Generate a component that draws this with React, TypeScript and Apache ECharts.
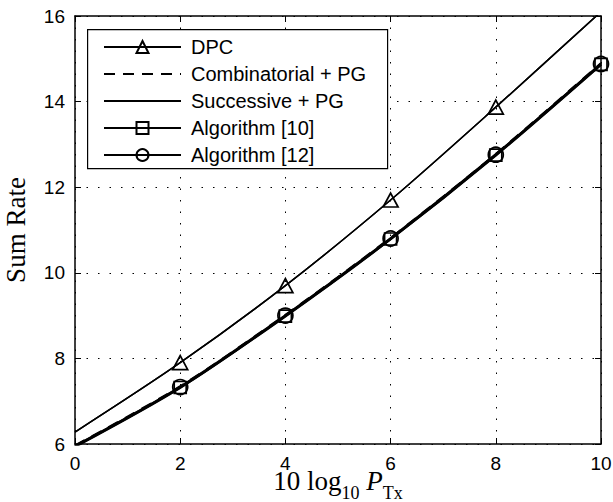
import React, { useEffect, useRef } from "react";
import * as echarts from "echarts";

const xValues = [0, 2, 4, 6, 8, 10];
const dpc = [6.28, 7.9, 9.7, 11.7, 13.87, 16.1];
const successive = [6.28, 7.9, 9.7, 11.7, 13.87, 16.1];
const combinatorial = [5.97, 7.35, 9.02, 10.82, 12.78, 14.9];
const algo10 = [5.94, 7.32, 8.99, 10.79, 12.75, 14.87];
const algo12 = [5.95, 7.33, 9.0, 10.8, 12.76, 14.88];
const xTicks = [0, 2, 4, 6, 8, 10];
const yTicks = [6, 8, 10, 12, 14, 16];

const seriesNames = [
  "DPC",
  "Combinatorial + PG",
  "Successive + PG",
  "Algorithm [10]",
  "Algorithm [12]",
];

// x-axis title pieces: [text, kind]
const xTitleParts: [string, string][] = [
  ["10 log", "main"],
  ["10", "sub"],
  [" ", "main"],
  ["P", "ital"],
  ["Tx", "sub"],
];

function toData(vals: number[], markFirst: boolean) {
  return vals.map((v, i) =>
    i === 0 && !markFirst ? { value: [xValues[i], v], symbol: "none" } : { value: [xValues[i], v] }
  );
}

export default function App() {
  const ref = useRef<HTMLDivElement>(null);
  useEffect(() => {
    if (!ref.current) return;
    const chart = echarts.init(ref.current, undefined, { renderer: "svg" });
    const tickFont = "Liberation Sans, Arial, sans-serif";
    const serif = "Liberation Serif, Times New Roman, serif";
    const grid = { left: 75, right: 12, top: 16, bottom: 58 };
    const dotted = { show: true, lineStyle: { color: "#000", width: 1, type: [1.5, 10] as any } };
    const axisLine = { show: true, onZero: false, lineStyle: { color: "#000", width: 1.5 } };
    const tick = { show: true, inside: true, length: 6, lineStyle: { color: "#000", width: 1 } };
    const hollow = { color: "rgba(0,0,0,0)", borderColor: "#000", borderWidth: 1.7 };
    const noSym = { color: "rgba(0,0,0,0)", borderColor: "rgba(0,0,0,0)", borderWidth: 0 };

    // build x-axis title as positioned text pieces
    const fonts: Record<string, { size: number; style: string; dy: number; lh: number }> = {
      main: { size: 27, style: "normal", dy: 0, lh: 20 },
      ital: { size: 27, style: "italic", dy: 0, lh: 20 },
      sub: { size: 18, style: "normal", dy: 12, lh: 14 },
    };
    const ctx = document.createElement("canvas").getContext("2d")!;
    const widths = xTitleParts.map(([t, k]) => {
      const f = fonts[k];
      ctx.font = `${f.style} ${f.size}px "Liberation Serif"`;
      return ctx.measureText(t).width;
    });
    const total = widths.reduce((a, b) => a + b, 0);
    const centerX = grid.left + (613 - grid.left - grid.right) / 2;
    const baseY = 481;
    let cx = centerX - total / 2;
    const titleTexts: any[] = [];
    xTitleParts.forEach(([t, k], i) => {
      const f = fonts[k];
      if (t.trim()) {
        titleTexts.push({
          type: "text",
          x: cx,
          y: baseY + f.dy,
          style: {
            text: t,
            fontFamily: serif,
            fontSize: f.size,
            fontStyle: f.style,
            lineHeight: f.lh,
            fill: "#000",
            align: "left",
            verticalAlign: "middle",
          },
        });
      }
      cx += widths[i];
    });

    chart.setOption({
      animation: false,
      backgroundColor: "#fff",
      grid: { ...grid, outerBoundsMode: "none" },
      graphic: [
        {
          type: "rect",
          left: 87,
          top: 29,
          shape: { width: 300, height: 139 },
          style: { fill: "#fff", stroke: "#000", lineWidth: 1.2 },
          z: 50,
        },
        ...titleTexts,
      ],
      legend: {
        orient: "vertical",
        left: 103,
        top: 37,
        padding: 0,
        itemWidth: 77,
        itemHeight: 15,
        itemGap: 7,
        z: 60,
        data: seriesNames,
        textStyle: {
          fontFamily: tickFont,
          fontSize: 20,
          color: "#000",
          padding: [0, 0, 0, 5],
        },
        lineStyle: { width: 2 },
      },
      xAxis: [
        {
          type: "value",
          min: 0,
          max: 10,
          interval: 2,
          position: "bottom",
          axisLine,
          axisTick: tick,
          splitLine: dotted,
          axisLabel: {
            fontFamily: tickFont,
            fontSize: 19,
            lineHeight: 14,
            color: "#000",
            margin: 12,
            formatter: (v: number) => (xTicks.includes(v) ? String(v) : ""),
          },
        },
        {
          type: "value",
          min: 0,
          max: 10,
          interval: 2,
          position: "top",
          axisLine,
          axisTick: tick,
          axisLabel: { show: false },
          splitLine: { show: false },
        },
      ],
      yAxis: [
        {
          type: "value",
          min: 6,
          max: 16,
          interval: 2,
          position: "left",
          axisLine,
          axisTick: tick,
          splitLine: dotted,
          axisLabel: {
            fontFamily: tickFont,
            fontSize: 19,
            color: "#000",
            margin: 10,
            formatter: (v: number) => (yTicks.includes(v) ? String(v) : ""),
          },
          name: "Sum Rate",
          nameLocation: "middle",
          nameGap: 46,
          nameMoveOverlap: false,
          nameTextStyle: { fontFamily: serif, fontSize: 27, color: "#000" },
        },
        {
          type: "value",
          min: 6,
          max: 16,
          interval: 2,
          position: "right",
          axisLine,
          axisTick: tick,
          axisLabel: { show: false },
          splitLine: { show: false },
        },
      ],
      series: [
        {
          name: seriesNames[0],
          type: "line",
          smooth: 0.3,
          data: toData(dpc, false),
          symbol: "triangle",
          symbolSize: [15, 14],
          itemStyle: hollow,
          lineStyle: { color: "#000", width: 1.5 },
          z: 3,
        },
        {
          name: seriesNames[1],
          type: "line",
          smooth: 0.3,
          data: toData(combinatorial, false),
          symbol: "none",
          showSymbol: false,
          itemStyle: noSym,
          lineStyle: { color: "#000", width: 2, type: [11, 8] },
          z: 2,
        },
        {
          name: seriesNames[2],
          type: "line",
          smooth: 0.3,
          data: toData(successive, false),
          symbol: "none",
          showSymbol: false,
          itemStyle: noSym,
          lineStyle: { color: "#000", width: 1.5 },
          z: 2,
        },
        {
          name: seriesNames[3],
          type: "line",
          smooth: 0.3,
          data: toData(algo10, false),
          symbol: "rect",
          symbolSize: 12,
          itemStyle: hollow,
          lineStyle: { color: "#000", width: 2.8 },
          z: 3,
        },
        {
          name: seriesNames[4],
          type: "line",
          smooth: 0.3,
          data: toData(algo12, false),
          symbol: "circle",
          symbolSize: 15,
          itemStyle: hollow,
          lineStyle: { color: "#000", width: 2.8 },
          z: 3,
        },
      ],
    });
    return () => chart.dispose();
  }, []);
  return <div ref={ref} style={{ width: 613, height: 502, position: "absolute", left: 0, top: 0 }} />;
}
